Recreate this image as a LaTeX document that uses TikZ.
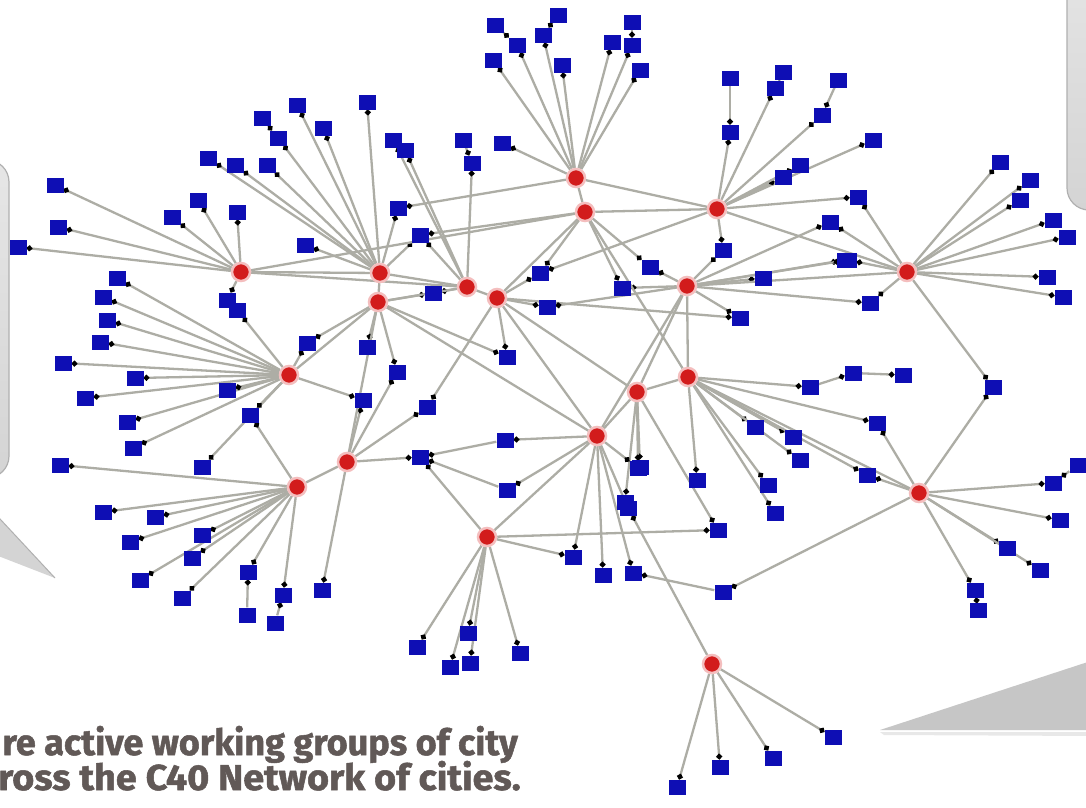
\documentclass[tikz,border=0pt]{standalone}
\usepackage{fontspec}
\newfontfamily\capfont{Fira Sans}[BoldFeatures={FakeBold=1.4}]
\usetikzlibrary{arrows.meta}
\definecolor{hubred}{HTML}{D21C1C}
\definecolor{halo}{HTML}{F4BEBE}
\definecolor{cityblue}{HTML}{0E0EB4}
\definecolor{linkgrey}{HTML}{ADADA5}
\definecolor{captxt}{HTML}{615957}
\definecolor{bubtop}{HTML}{E6E6E6}
\definecolor{bubbot}{HTML}{D4D4D4}
\definecolor{bubedge}{HTML}{B0B0B0}
\definecolor{tailgrey}{HTML}{C6C6C6}
\pgfdeclarelayer{back}
\pgfdeclarelayer{links}
\pgfsetlayers{back,links,main}
\begin{document}
\begin{tikzpicture}[x=1pt,y=-1pt,
  hub/.style={circle,fill=hubred,draw=halo,line width=2.5pt,minimum size=18pt,inner sep=0pt},
  city/.style={rectangle,fill=cityblue,minimum width=17pt,minimum height=15pt,inner sep=0pt},
  link/.style={draw=linkgrey,line width=2.3pt,-{Circle[length=5.5pt,width=5.5pt,black]}},
  hublink/.style={draw=linkgrey,line width=2.3pt},
  bubble/.style={draw=bubedge,line width=1.2pt,top color=bubtop,bottom color=bubbot},
  caption/.style={anchor=base east,text=captxt,inner sep=0pt,
    font=\capfont\bfseries\fontsize{36}{36}\selectfont},
]
\clip (0,0) rectangle (1086,807);

% speech bubbles at the edges, on a white ground
\begin{pgfonlayer}{back}
  \fill[white] (0,0) rectangle (1086,807);
  \path[bubble,rounded corners=22pt] (-200,160) rectangle (9,478);
  \fill[bubbot] (-40,476) -- (55,578) -- (-208,476) -- cycle;
  \draw[bubedge,line width=1pt] (-40,476) -- (55,578);
  \path[bubble,rounded corners=22pt] (1067,-60) rectangle (1300,210);
  \fill[black!25,opacity=0.35] (880,732) -- (1100,732) -- (1100,736) -- (884,735) -- cycle;
  \fill[tailgrey] (880,730) -- (1100,658) -- (1100,730) -- cycle;
\end{pgfonlayer}

% hubs
\node[hub] (h1) at (576,178) {};
\node[hub] (h2) at (585,212) {};
\node[hub] (h3) at (717,209) {};
\node[hub] (h4) at (241,272) {};
\node[hub] (h5) at (380,273) {};
\node[hub] (h6) at (378,302) {};
\node[hub] (h7) at (467,287) {};
\node[hub] (h8) at (497,298) {};
\node[hub] (h9) at (687,286) {};
\node[hub] (h10) at (907,272) {};
\node[hub] (h11) at (289,375) {};
\node[hub] (h12) at (637,392) {};
\node[hub] (h13) at (688,377) {};
\node[hub] (h14) at (597,436) {};
\node[hub] (h15) at (347,462) {};
\node[hub] (h16) at (297,487) {};
\node[hub] (h17) at (919,493) {};
\node[hub] (h18) at (487,537) {};
\node[hub] (h19) at (712,664) {};

% cities
\foreach \n/\x/\y in {
  b1/495/25, b2/517/45, b3/493/60, b4/558/15, b5/543/35, b6/562/65,
  b7/632/22, b8/612/42, b9/632/45, b10/640/70,
  b11/463/140, b12/472/163, b13/502/143,
  b14/730/78, b15/730/132, b16/783/72, b17/775/88, b18/838/80, b19/822/115,
  b20/873/140, b21/783/177, b22/800/165, b23/858/197, b24/830/222, b25/845/260,
  b26/723/250, b27/650/267, b28/622/288, b29/763/278, b30/540/273,
  b31/1000/162, b32/1030/180, b33/1020/200, b34/1053/220, b35/1067/237,
  b36/1047/277, b37/1063/297, b39/848/260, b40/870/303, b41/740/318, b42/993/387,
  b43/810/387, b44/853/373, b45/903/375, b46/877/423, b47/755/427, b48/793/437,
  b49/800/460, b50/867/475, b51/768/485, b52/697/480, b53/640/467, b54/625/502,
  b55/775/513, b56/718/530,
  b58/573/557, b59/603/575, b60/633/573, b61/638/468, b62/628/508,
  b63/505/440, b64/420/457, b65/507/490, b66/723/592,
  b67/833/737, b68/773/758, b69/720/767, b70/677/787,
  b71/1053/483, b72/1078/465, b73/1060/520, b74/1007/548, b75/1040/570,
  b76/975/590, b77/978/610,
  b78/417/647, b79/468/633, b80/450/667, b81/470/663, b82/520/653,
  b83/60/465, b84/133/448, b85/202/467, b86/103/512, b87/155/517, b88/130/542,
  b89/202/535, b90/192/558, b91/140/580, b92/182/598, b93/248/572, b94/283/595,
  b95/322/590, b96/247/615, b97/275/623,
  b99/117/278, b100/103/297, b101/107/320, b102/100/342, b103/63/363,
  b104/135/378, b105/85/398, b106/127/422, b108/227/390, b109/250/415,
  b110/227/300, b111/237/310,
  b112/55/185, b113/58/227, b114/18/247, b115/208/158, b116/235/165, b117/267/165,
  b118/198/200, b119/172/217, b120/237/212,
  b121/297/105, b122/262/118, b123/278/138, b124/323/128, b125/367/102,
  b126/305/245, b127/393/140, b128/405/150, b130/398/208, b131/420/235,
  b132/433/293, b135/547/307, b136/507/357, b138/307/343, b139/367/347,
  b140/397/372, b141/363/400, b142/427/407}
  \node[city] (\n) at (\x,\y) {};

\begin{pgfonlayer}{links}
% hub to city links
\foreach \a/\b in {
  h1/b2, h1/b3, h1/b5, h1/b6, h1/b8, h1/b9, h1/b10, h1/b13,
  h7/b12, h3/b15, h3/b17, h3/b19, h3/b20, h3/b21, h3/b22, h3/b23, h3/b26,
  h9/b24, h9/b25, h9/b26, h9/b27, h9/b28, h9/b29, h2/b27, h2/b28, h2/b30, h8/b30,
  h10/b31, h10/b32, h10/b33, h10/b34, h10/b35, h10/b36, h10/b37, h10/b42,
  h9/b39, h9/b40, h9/b41, h17/b42, h10/b23, h10/b24, h10/b39, h10/b40,
  h13/b43, h13/b46, h13/b47, h13/b48, h13/b49, h13/b50, h13/b51, h13/b52,
  h12/b53, h12/b54, h13/b55, h12/b56, h8/b41, h3/b30,
  h14/b58, h14/b59, h14/b60, h14/b61, h14/b62, h14/b63, h14/b65,
  h18/b64, h15/b64, h17/b66, h19/b62, h17/b50, h17/b46,
  h19/b67, h19/b68, h19/b69, h19/b70,
  h17/b71, h17/b73, h17/b74, h17/b75, h17/b76,
  h18/b78, h18/b79, h18/b80, h18/b81, h18/b82, h18/b58, h18/b56,
  h16/b83, h16/b86, h16/b87, h16/b88, h16/b89, h16/b90, h16/b91, h16/b92,
  h16/b93, h16/b94, h15/b95, h11/b84, h11/b85,
  h11/b99, h11/b100, h11/b101, h11/b102, h11/b103, h11/b104, h11/b105, h11/b106,
  h11/b108, h11/b109, h16/b109, h4/b110, h11/b111,
  h4/b112, h4/b113, h4/b114, h5/b115, h5/b116, h5/b117, h4/b118, h4/b119, h4/b120,
  h5/b121, h5/b123, h5/b124, h5/b125, h5/b126, h7/b127, h7/b128, h5/b130, h5/b131,
  h7/b131, h6/b132, h7/b132, h8/b135, h8/b136, h6/b136, h6/b138, h11/b138,
  h6/b139, h6/b140, h15/b140, h15/b141, h11/b141, h15/b142, h8/b142, h12/b61,
  h2/b131, h1/b130, h9/b135}
  \draw[link] (\a) -- (\b);
% city to city chains
\foreach \a/\b in {
  b1/b2, b4/b5, b7/b9, b11/b12, b14/b15, b16/b17, b18/b19, b43/b44, b44/b45,
  b72/b71, b77/b76, b96/b93, b97/b94, b122/b123, b63/b64, b65/b64, b66/b60}
  \draw[link] (\a) -- (\b);
% hub to hub links
\foreach \a/\b in {
  h1/h2, h1/h3, h3/h10, h4/h5, h5/h6, h5/h7, h6/h7, h7/h8, h8/h2, h4/h2,
  h9/h12, h9/h13, h12/h13, h12/h14, h8/h12, h15/h16, h15/h6, h11/h6,
  h13/h17, h10/h9, h2/h13, h8/h14, h18/h14, h4/h7, h9/h14, h2/h3, h6/h14}
  \draw[hublink] (\a) -- (\b);
\end{pgfonlayer}

% caption
\node[caption] (cap1) at (518,755) {re active working groups of city};
\node[caption] (cap2) at (521,790) {\scalebox{1.05}[1]{ross the C40 Network of cities.}};
\end{tikzpicture}
\end{document}
